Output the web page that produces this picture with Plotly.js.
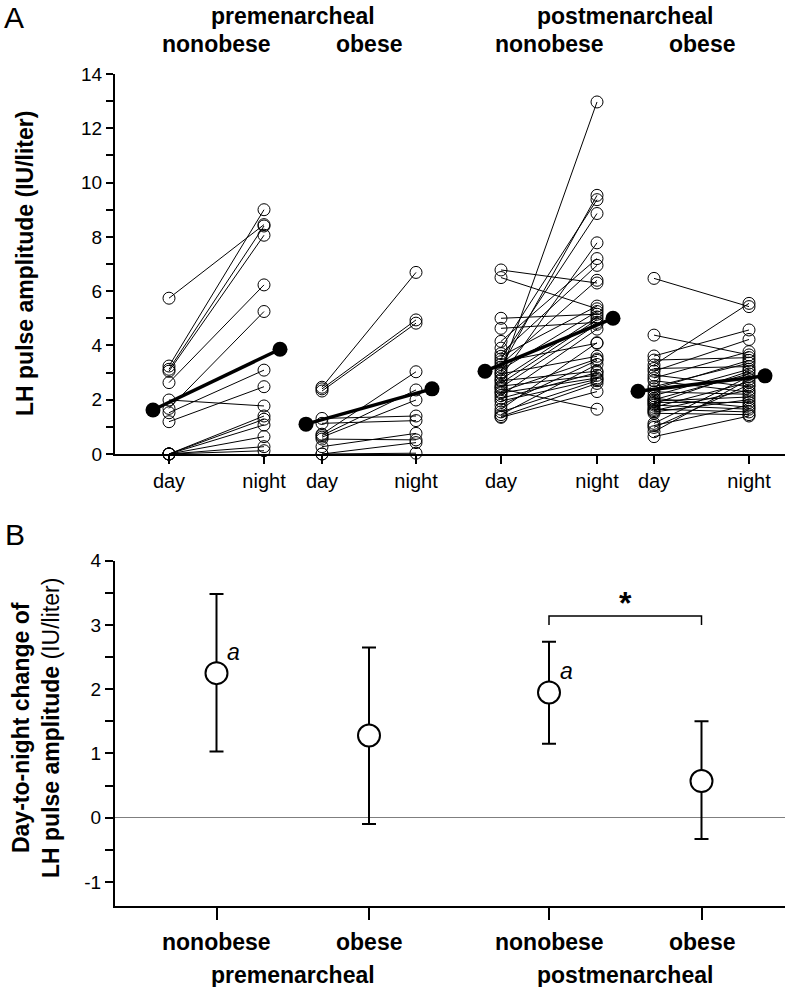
<!DOCTYPE html>
<html>
<head>
<meta charset="utf-8">
<script src="https://cdn.plot.ly/plotly-3.0.1.min.js"></script>
<style>html,body{margin:0;padding:0;background:#fff}#chart{width:788px;height:987px}</style>
</head>
<body>
<div id="chart"></div>
<script>
// ---------- DATA ----------
const groupLabels = ['nonobese', 'obese', 'nonobese', 'obese'];
const stageLabels = ['premenarcheal', 'postmenarcheal'];
const timeLabels = ['day', 'night'];

// Panel A: individual LH pulse amplitude (IU/liter), paired day -> night
const preNonobeseDay   = [5.74, 3.24, 3.12, 3.05, 2.63, 1.99, 1.68, 1.52, 1.19, 0, 0, 0, 0, 0, 0];
const preNonobeseNight = [8.45, 9.00, 8.40, 8.06, 6.23, 1.77, 5.25, 3.09, 2.48, 1.40, 1.28, 1.07, 0.64, 0.27, 0.12];

const preObeseDay   = [2.46, 2.40, 2.32, 1.31, 1.13, 0.73, 0.68, 0.62, 0.55, 0.27, 0, 0];
const preObeseNight = [6.69, 4.94, 4.82, 1.40, 1.23, 3.03, 2.36, 1.99, 0.52, 0.76, 0.42, 0.03];

const postNonobeseDay   = [6.78, 6.50, 5.00, 4.63, 4.15, 3.90, 3.70, 3.60, 3.50, 3.40, 3.30, 3.20, 3.10, 3.00, 2.95, 2.85, 2.75, 2.70, 2.60, 2.50, 2.45, 2.40, 2.30, 2.25, 2.15, 2.05, 1.95, 1.80, 1.65, 1.55, 1.45, 1.38, 1.35];
const postNonobeseNight = [6.30, 5.35, 5.15, 4.85, 7.20, 9.37, 6.95, 5.45, 8.86, 4.08, 6.40, 9.53, 5.25, 12.97, 3.60, 7.78, 5.05, 3.05, 4.95, 2.90, 4.78, 1.65, 3.50, 2.80, 4.60, 3.00, 2.75, 3.45, 4.10, 2.70, 3.30, 2.60, 2.30];

const postObeseDay   = [6.47, 4.38, 3.61, 3.46, 3.28, 3.15, 3.05, 2.91, 2.80, 2.70, 2.48, 2.40, 2.29, 2.15, 2.05, 2.00, 1.95, 1.90, 1.85, 1.80, 1.72, 1.65, 1.60, 1.55, 1.50, 1.13, 1.05, 0.98, 0.82, 0.64];
const postObeseNight = [5.43, 3.65, 4.57, 3.55, 5.55, 3.22, 4.22, 2.48, 3.77, 2.28, 3.35, 3.45, 2.20, 3.12, 1.72, 2.95, 2.10, 1.90, 3.05, 1.65, 2.65, 1.55, 2.36, 2.00, 1.45, 2.85, 1.80, 2.55, 2.75, 1.40];

// Panel A: group means
const meanDay   = [1.62, 1.10, 3.05, 2.31];
const meanNight = [3.86, 2.40, 5.00, 2.88];

// Panel B: day-to-night change (mean with error bar ends)
const changeMean  = [2.25, 1.28, 1.95, 0.57];
const changeUpper = [3.48, 2.65, 2.74, 1.50];
const changeLower = [1.03, -0.10, 1.15, -0.33];
const sigLetter   = ['a', '', 'a', ''];

// ---------- LAYOUT CONSTANTS ----------
const W = 788, H = 987;
const FONT = 'Liberation Sans, Arial, sans-serif';
const colX = [[169, 264], [322, 416], [501, 597], [654, 749]];
const meanOff = 16;
const groupsDay = [preNonobeseDay, preObeseDay, postNonobeseDay, postObeseDay];
const groupsNight = [preNonobeseNight, preObeseNight, postNonobeseNight, postObeseNight];
const px = x => x / W;
const py = y => 1 - y / H;
const centers = colX.map(c => (c[0] + c[1]) / 2);

const traces = [];
groupsDay.forEach((d, g) => {
  const xs = [], ys = [];
  d.forEach((v, i) => { xs.push(colX[g][0], colX[g][1], null); ys.push(v, groupsNight[g][i], null); });
  traces.push({
    type: 'scatter', mode: 'lines+markers', x: xs, y: ys, xaxis: 'x', yaxis: 'y',
    line: {color: '#000', width: 1},
    marker: {symbol: 'circle-open', size: 12, color: '#000', line: {width: 1, color: '#000'}},
    cliponaxis: false, showlegend: false, hoverinfo: 'skip'
  });
});
meanDay.forEach((m, g) => {
  traces.push({
    type: 'scatter', mode: 'lines+markers',
    x: [colX[g][0] - meanOff, colX[g][1] + meanOff], y: [m, meanNight[g]], xaxis: 'x', yaxis: 'y',
    line: {color: '#000', width: 3.5},
    marker: {symbol: 'circle', size: 15, color: '#000'},
    cliponaxis: false, showlegend: false
  });
});
traces.push({
  type: 'scatter', mode: 'markers', x: centers, y: changeMean, xaxis: 'x2', yaxis: 'y2',
  marker: {symbol: 'circle', size: 22, color: '#fff', line: {width: 2, color: '#000'}},
  error_y: {type: 'data', symmetric: false,
    array: changeUpper.map((u, i) => u - changeMean[i]),
    arrayminus: changeMean.map((m, i) => m - changeLower[i]),
    color: '#000', thickness: 2, width: 7},
  cliponaxis: false, showlegend: false
});

const ann = [];
const addText = (text, x, y, size, extra) => ann.push(Object.assign({
  text, x: px(x), y: py(y), xref: 'paper', yref: 'paper', showarrow: false,
  xanchor: 'center', yanchor: 'middle', font: {family: FONT, size, color: '#000'}
}, extra || {}));

addText('A', 14, 18, 30);
addText('B', 15, 534, 30);
addText('<b>' + stageLabels[0] + '</b>', (centers[0] + centers[1]) / 2, 16, 23);
addText('<b>' + stageLabels[1] + '</b>', (centers[2] + centers[3]) / 2, 16, 23);
groupLabels.forEach((g, i) => {
  addText('<b>' + g + '</b>', centers[i], 44, 23);
  addText('<b>' + g + '</b>', centers[i], 942, 23);
});
addText('<b>' + stageLabels[0] + '</b>', (centers[0] + centers[1]) / 2, 975, 23);
addText('<b>' + stageLabels[1] + '</b>', (centers[2] + centers[3]) / 2, 975, 23);
addText('<b>LH pulse amplitude (IU/liter)</b>', 25, 264, 23, {textangle: -90});
addText('<b>Day-to-night change of</b><br><b>LH pulse amplitude</b> (IU/liter)', 36, 728, 23, {textangle: -90});
sigLetter.forEach((s, i) => {
  if (!s) return;
  ann.push({text: '<i>' + s + '</i>', x: centers[i] + 17, y: changeMean[i] + 0.33, xref: 'x2', yref: 'y2',
    showarrow: false, xanchor: 'center', yanchor: 'middle', font: {family: FONT, size: 23, color: '#000'}});
});
addText('<b>*</b>', (centers[2] + centers[3]) / 2, 603, 32);

const bracketY = 3.14, bracketFoot = 3.0;
const shapes = [{
  type: 'path', xref: 'x2', yref: 'y2',
  path: `M ${centers[2]} ${bracketFoot} L ${centers[2]} ${bracketY} L ${centers[3]} ${bracketY} L ${centers[3]} ${bracketFoot}`,
  line: {color: '#000', width: 1.5}
}];

const axFont = {family: FONT, size: 19, color: '#000'};
const layout = {
  width: W, height: H, margin: {l: 0, r: 0, t: 0, b: 0},
  paper_bgcolor: '#fff', plot_bgcolor: 'rgba(0,0,0,0)',
  font: {family: FONT, color: '#000'},
  showlegend: false,
  xaxis: {domain: [px(115), px(785)], range: [115, 785], anchor: 'y',
    showline: true, linewidth: 2, linecolor: '#000', showgrid: false, zeroline: false,
    ticks: 'outside', ticklen: 8, tickwidth: 2, tickcolor: '#000',
    tickmode: 'array', tickvals: colX.flat(), ticktext: colX.flat().map((_, i) => timeLabels[i % 2]),
    tickfont: {family: FONT, size: 20, color: '#000'}, fixedrange: true},
  yaxis: {domain: [py(454), py(74)], range: [0, 14], anchor: 'x',
    showline: true, linewidth: 2, linecolor: '#000', showgrid: false, zeroline: false,
    ticks: 'outside', ticklen: 7, tickwidth: 2, tickcolor: '#000', dtick: 2, tick0: 0,
    minor: {tickmode: 'linear', tick0: 0, dtick: 1, ticks: 'outside', ticklen: 7, tickwidth: 2, tickcolor: '#000', showgrid: false},
    tickfont: axFont},
  xaxis2: {domain: [px(115), px(785)], range: [115, 785], anchor: 'y2',
    showline: true, linewidth: 2, linecolor: '#000', showgrid: false, zeroline: false,
    ticks: 'outside', ticklen: 12, tickwidth: 2, tickcolor: '#000',
    tickmode: 'array', tickvals: centers, showticklabels: false},
  yaxis2: {domain: [py(905.7), py(560.7)], range: [-1.37, 4], anchor: 'x2',
    showline: true, linewidth: 2, linecolor: '#000', showgrid: false,
    zeroline: true, zerolinecolor: '#7f7f7f', zerolinewidth: 1,
    ticks: 'outside', ticklen: 8, tickwidth: 2, tickcolor: '#000',
    tickmode: 'array', tickvals: [-1, 0, 1, 2, 3, 4], ticktext: ['-1', '0', '1', '2', '3', '4'],
    minor: {tickmode: 'linear', tick0: 0, dtick: 0.5, ticks: 'outside', ticklen: 8, tickwidth: 2, tickcolor: '#000', showgrid: false},
    tickfont: axFont},
  annotations: ann,
  shapes: shapes
};

Plotly.newPlot('chart', traces, layout, {displayModeBar: false, staticPlot: true});
</script>
</body>
</html>
